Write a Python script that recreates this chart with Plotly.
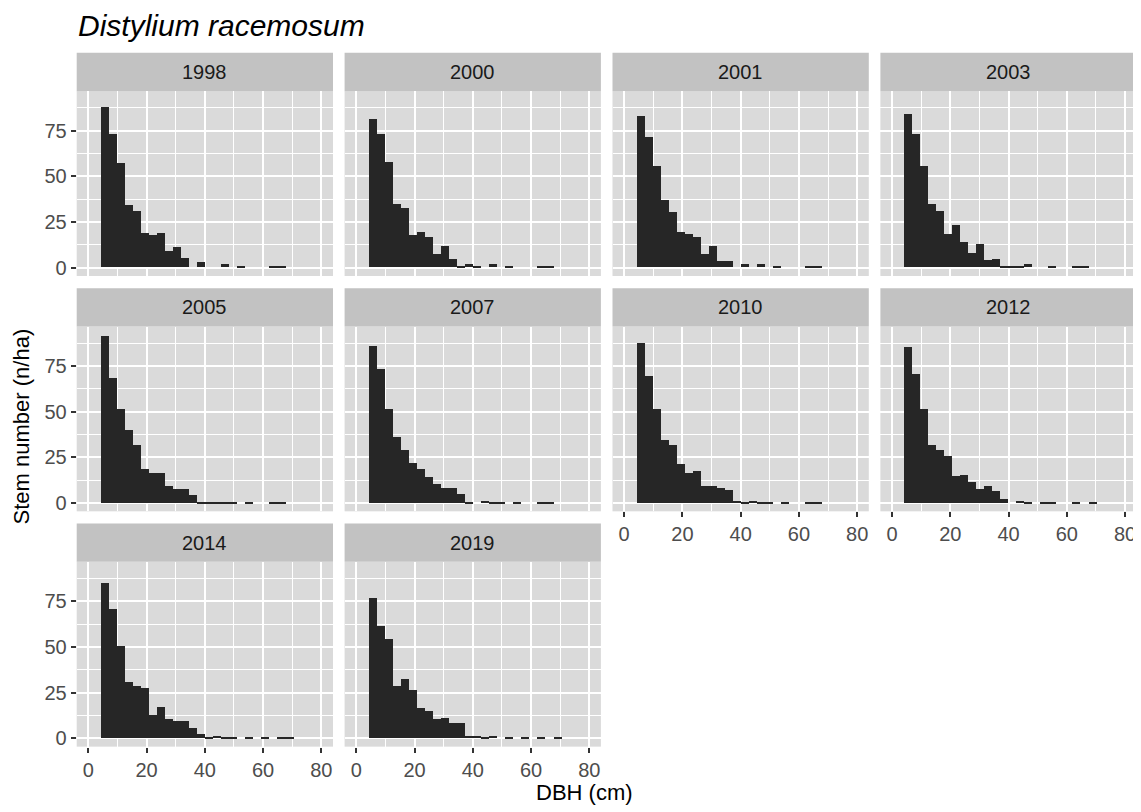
import plotly.graph_objects as go

# ---------------- data ----------------
years = ["1998", "2000", "2001", "2003", "2005", "2007", "2010", "2012", "2014", "2019"]

# DBH bin centres (cm), bin width = 80/29
dbh_mid = [5.52, 8.28, 11.03, 13.79, 16.55, 19.31, 22.07, 24.83, 27.59, 30.34,
           33.10, 35.86, 38.62, 41.38, 44.14, 46.90, 49.66, 52.41, 55.17, 57.93,
           60.69, 63.45, 66.21, 68.97]
bin_width = 2.759

# stem number (n/ha) per DBH bin
n_1998 = [88, 73, 57, 34, 31, 19, 18, 19, 9, 11, 5, 0, 3, 0, 0, 2, 0, 0.7, 0, 0, 0, 0.7, 0.7, 0]
n_2000 = [81, 73, 57.5, 34.7, 32.8, 18, 19.3, 16.6, 7.5, 11.5, 4.6, 0.7, 1.8, 0.7, 0, 1.8, 0, 0.7, 0, 0, 0, 0.7, 0.7, 0]
n_2001 = [82.7, 71.4, 55.7, 37.1, 30.1, 19.3, 18.4, 16.6, 7.5, 11.9, 3.6, 3.6, 0, 2.0, 0, 2.0, 0, 0.7, 0, 0, 0, 0.7, 0.7, 0]
n_2003 = [84.1, 73, 55.8, 34.9, 30.8, 18.1, 23.2, 13.9, 8.0, 12.6, 3.8, 4.7, 0.7, 0.7, 0.7, 2.0, 0, 0, 0.7, 0, 0, 0.7, 0.7, 0]
n_2005 = [91.8, 68.6, 51.6, 40.3, 31.8, 18.8, 16.6, 16.6, 9.3, 8.0, 8.0, 4.6, 0.7, 0.7, 0.7, 0.7, 0.7, 0, 0.7, 0, 0, 0.7, 0.7, 0]
n_2007 = [86.3, 73.5, 51.6, 36.3, 29.4, 22.1, 18.8, 14.4, 10.8, 8.2, 8.2, 5.3, 0.9, 0, 1.3, 0.7, 0.7, 0, 0.7, 0, 0, 0.7, 0.7, 0]
n_2010 = [87.8, 69.9, 51.6, 34.5, 31.8, 21.7, 16.6, 17.9, 9.3, 9.3, 8.4, 7.5, 1.5, 0.7, 1.3, 0.7, 0.7, 0, 0.7, 0, 0, 0.7, 0.7, 0]
n_2012 = [85.6, 70.8, 51.6, 31.8, 29.4, 25.7, 14.8, 15.7, 11.7, 8.0, 9.3, 6.6, 2.6, 0, 1.3, 0.7, 0, 0.7, 0.7, 0, 0, 0.7, 0, 0.7]
n_2014 = [84.9, 70.8, 50.5, 30.7, 28.6, 27.7, 12.8, 17.3, 10.9, 9.5, 9.5, 5.5, 2.4, 0.7, 1.1, 0.7, 0.7, 0, 0.7, 0, 0.7, 0, 0.7, 0.7]
n_2019 = [77.0, 61.5, 54.7, 28.8, 32.3, 26.5, 16.4, 15.1, 10.4, 11.3, 8.6, 8.6, 1.4, 1.4, 0.7, 1.4, 0, 0.7, 0, 0.7, 0, 0.7, 0, 0.7]

series = [n_1998, n_2000, n_2001, n_2003, n_2005, n_2007, n_2010, n_2012, n_2014, n_2019]

x_ticks = [0, 20, 40, 60, 80]
x_minor = [10, 30, 50, 70]
y_ticks = [0, 25, 50, 75]
y_minor = [12.5, 37.5, 62.5, 87.5]

title_text = "Distylium racemosum"
x_title = "DBH (cm)"
y_title = "Stem number (n/ha)"

# ---------------- layout geometry (page pixels) ----------------
PAGE_W, PAGE_H = 1141, 812
OFF = 8  # default body margin of the html page
W, H = PAGE_W - OFF, PAGE_H - OFF
col_left = [76.7, 344.6, 612.5, 880.4]
panel_w = 256.3
row_strip_top = [53.0, 289.2, 525.4]
strip_h = 38.5
plot_h = 185.5

PANEL_BG = "#DADADA"
STRIP_BG = "#C2C2C2"
BAR_COLOR = "#262626"
FONT = "Liberation Sans, Arial, Helvetica, sans-serif"


def px_x(v):
    return (v - OFF) / W


def px_y(v):
    return 1 - (v - OFF) / H


fig = go.Figure()
shapes = []
annotations = []

n_cols = 4
bottom_panels = {6, 7, 8, 9}
left_panels = {0, 4, 8}

for i, (yr, vals) in enumerate(zip(years, series)):
    r, c = divmod(i, n_cols)
    idx = "" if i == 0 else str(i + 1)
    x0 = col_left[c]
    x1 = x0 + panel_w
    s_top = row_strip_top[r]
    p_top = s_top + strip_h
    p_bot = p_top + plot_h

    fig.add_trace(go.Bar(
        x=dbh_mid, y=vals, width=bin_width,
        marker=dict(color=BAR_COLOR, line=dict(width=0)),
        xaxis="x" + idx, yaxis="y" + idx, showlegend=False,
        hovertemplate="DBH %{x:.1f} cm<br>%{y} n/ha<extra>" + yr + "</extra>",
    ))

    xa = dict(
        domain=[px_x(x0), px_x(x1)], range=[-4, 84], anchor="y" + idx,
        tickvals=x_ticks, showgrid=True, gridcolor="white", gridwidth=1.8,
        minor=dict(tickvals=x_minor, showgrid=True, gridcolor="white", gridwidth=0.9),
        zeroline=False, showline=False, fixedrange=True,
        showticklabels=i in bottom_panels,
        ticks="outside" if i in bottom_panels else "",
        ticklen=5, tickwidth=1.8, tickcolor="#333333",
        tickfont=dict(family=FONT, size=20, color="#4D4D4D"),
    )
    ya = dict(
        domain=[px_y(p_bot), px_y(p_top)], range=[-4.6, 96.6], anchor="x" + idx,
        tickvals=y_ticks, showgrid=True, gridcolor="white", gridwidth=1.8,
        minor=dict(tickvals=y_minor, showgrid=True, gridcolor="white", gridwidth=0.9),
        zeroline=False, showline=False, fixedrange=True,
        showticklabels=i in left_panels,
        ticks="outside" if i in left_panels else "",
        ticklen=5, tickwidth=1.8, tickcolor="#333333",
        tickfont=dict(family=FONT, size=20, color="#4D4D4D"),
    )
    fig.update_layout(**{"xaxis" + idx: xa, "yaxis" + idx: ya})

    # strip
    shapes.append(dict(type="rect", xref="paper", yref="paper",
                       x0=px_x(x0), x1=px_x(x1), y0=px_y(p_top), y1=px_y(s_top),
                       fillcolor=STRIP_BG, line=dict(width=0), layer="below"))
    annotations.append(dict(text=yr, xref="paper", yref="paper",
                            x=px_x((x0 + x1) / 2), y=px_y(s_top + strip_h / 2),
                            xanchor="center", yanchor="middle", showarrow=False,
                            font=dict(family=FONT, size=20, color="#1A1A1A")))

# title and axis titles
annotations.append(dict(text="<i>" + title_text + "</i>", xref="paper", yref="paper",
                        x=px_x(76), y=px_y(26), xanchor="left", yanchor="middle",
                        showarrow=False, font=dict(family=FONT, size=30, color="black")))
annotations.append(dict(text=x_title, xref="paper", yref="paper",
                        x=px_x(584), y=px_y(795), xanchor="center", yanchor="middle",
                        showarrow=False, font=dict(family=FONT, size=22, color="black")))
annotations.append(dict(text=y_title, xref="paper", yref="paper",
                        x=px_x(21), y=px_y(428), xanchor="center", yanchor="middle",
                        textangle=-90, showarrow=False,
                        font=dict(family=FONT, size=22, color="black")))

fig.update_layout(
    width=W, height=H, autosize=False,
    margin=dict(l=0, r=0, t=0, b=0, pad=0),
    paper_bgcolor="white", plot_bgcolor=PANEL_BG,
    bargap=0, barmode="overlay",
    shapes=shapes, annotations=annotations,
    font=dict(family=FONT),
)

fig.write_html("out.html")
